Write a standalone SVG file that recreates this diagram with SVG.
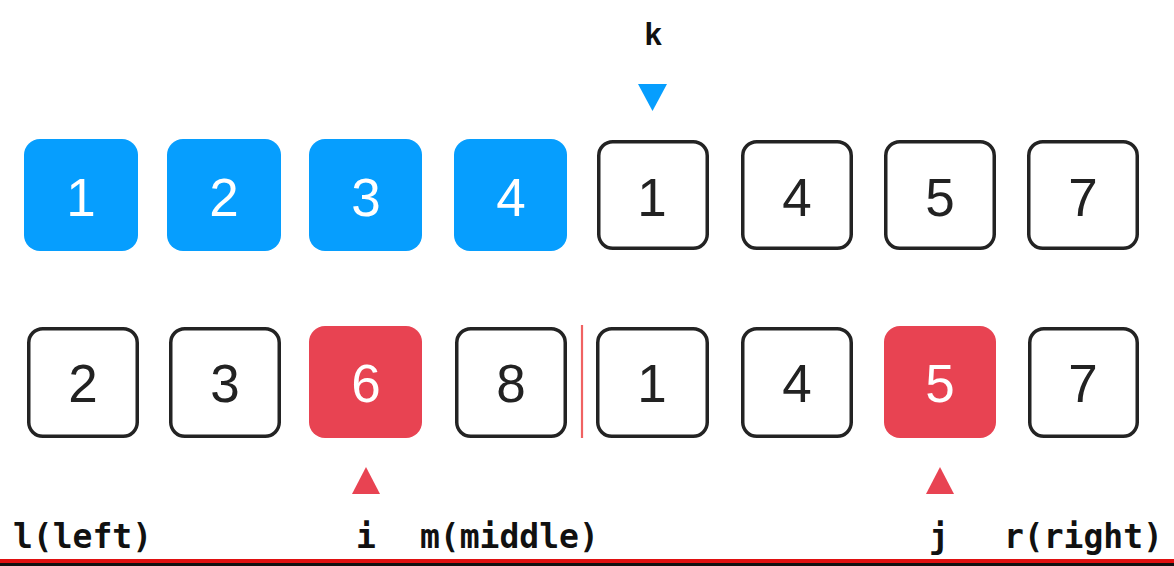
<svg xmlns="http://www.w3.org/2000/svg" width="1174" height="566" viewBox="0 0 1174 566">
  <style>
    .blue { fill: #069EFE; }
    .red { fill: #E84352; }
    .out { fill: #ffffff; stroke: #232323; stroke-width: 3.5; }
    .num { font-family: "Liberation Sans", Arial, sans-serif; font-size: 53px; text-anchor: middle; }
    .wt { fill: #ffffff; }
    .dk { fill: #222222; }
    .lbl { font-family: "DejaVu Sans Mono", "Liberation Mono", monospace; font-weight: bold; font-size: 33px; fill: #111111; }
    .k { font-family: "Liberation Sans", Arial, sans-serif; font-weight: bold; font-size: 31px; fill: #111111; text-anchor: middle; }
  </style>
  <rect width="1174" height="566" fill="#ffffff"/>

  <!-- top row -->
  <g id="t1"><rect class="blue" x="24" y="139" width="114" height="112" rx="16"/><text class="num wt" x="81" y="216">1</text></g>
  <g id="t2"><rect class="blue" x="167" y="139" width="114" height="112" rx="16"/><text class="num wt" x="224" y="216">2</text></g>
  <g id="t3"><rect class="blue" x="309" y="139" width="113" height="112" rx="16"/><text class="num wt" x="366" y="216">3</text></g>
  <g id="t4"><rect class="blue" x="454" y="139" width="113" height="112" rx="16"/><text class="num wt" x="511" y="216">4</text></g>
  <g id="t5"><rect class="out" x="598.75" y="141.75" width="108.5" height="106.5" rx="14"/><text class="num dk" x="652" y="216">1</text></g>
  <g id="t6"><rect class="out" x="742.75" y="141.75" width="108.5" height="106.5" rx="14"/><text class="num dk" x="797" y="216">4</text></g>
  <g id="t7"><rect class="out" x="885.75" y="141.75" width="108.5" height="106.5" rx="14"/><text class="num dk" x="940" y="216">5</text></g>
  <g id="t8"><rect class="out" x="1028.75" y="141.75" width="108.5" height="106.5" rx="14"/><text class="num dk" x="1083" y="216">7</text></g>

  <!-- bottom row -->
  <g id="b1"><rect class="out" x="28.75" y="328.75" width="108.5" height="107.5" rx="14"/><text class="num dk" x="83" y="402">2</text></g>
  <g id="b2"><rect class="out" x="170.75" y="328.75" width="108.5" height="107.5" rx="14"/><text class="num dk" x="225" y="402">3</text></g>
  <g id="b3"><rect class="red" x="309" y="326" width="113" height="112" rx="16"/><text class="num wt" x="366" y="402">6</text></g>
  <g id="b4"><rect class="out" x="456.75" y="328.75" width="108.5" height="107.5" rx="14"/><text class="num dk" x="511" y="402">8</text></g>
  <g id="b5"><rect class="out" x="597.75" y="328.75" width="109.5" height="107.5" rx="14"/><text class="num dk" x="652" y="402">1</text></g>
  <g id="b6"><rect class="out" x="742.75" y="328.75" width="108.5" height="107.5" rx="14"/><text class="num dk" x="797" y="402">4</text></g>
  <g id="b7"><rect class="red" x="884" y="326" width="112" height="112" rx="16"/><text class="num wt" x="940" y="402">5</text></g>
  <g id="b8"><rect class="out" x="1029.75" y="328.75" width="107.5" height="107.5" rx="14"/><text class="num dk" x="1083" y="402">7</text></g>

  <!-- divider -->
  <g id="divider"><line x1="582" y1="325" x2="582" y2="438" stroke="#F06262" stroke-width="2.2"/></g>

  <!-- pointers -->
  <g id="connectors">
    <polygon points="638,84 667,84 652.5,111" fill="#069EFE"/>
    <polygon points="366,467 380,494 352,494" fill="#E84352"/>
    <polygon points="940,467 954,494 926,494" fill="#E84352"/>
  </g>

  <!-- labels -->
  <g id="labels">
    <text class="k" x="653" y="45">k</text>
    <text class="lbl" x="13" y="548">l(left)</text>
    <text class="lbl" x="366" y="548" text-anchor="middle">i</text>
    <text class="lbl" x="420" y="548">m(middle)</text>
    <text class="lbl" x="939" y="548" text-anchor="middle">j</text>
    <text class="lbl" x="1004" y="548">r(right)</text>
  </g>

  <!-- bottom bars -->
  <rect x="0" y="559" width="1174" height="4" fill="#E01010"/>
  <rect x="0" y="563" width="1174" height="3" fill="#111111"/>
</svg>
